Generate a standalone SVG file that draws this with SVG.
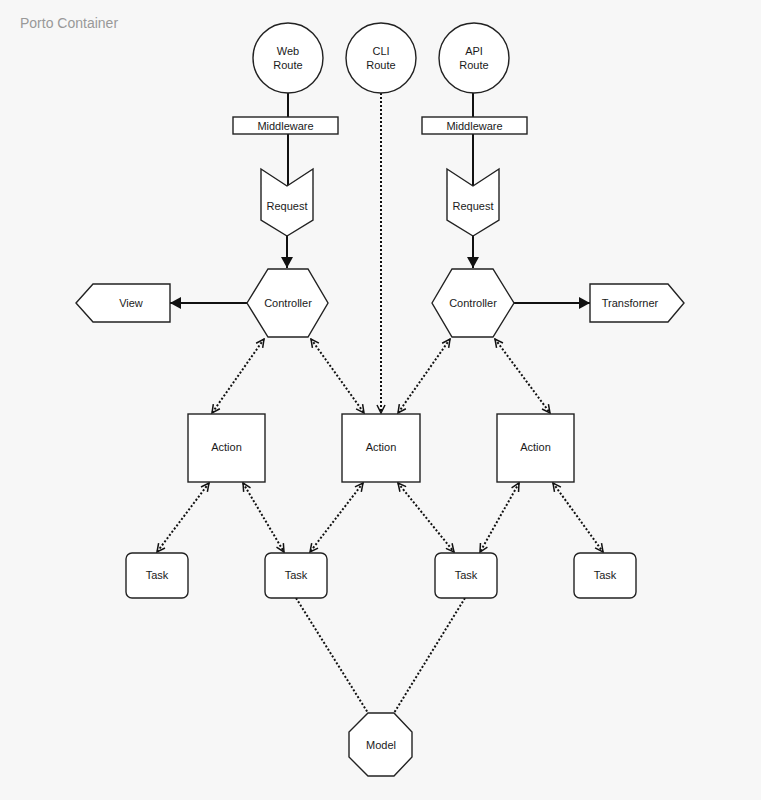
<svg xmlns="http://www.w3.org/2000/svg" width="761" height="800" viewBox="0 0 761 800">
<style>
.shape{fill:#fff;stroke:#222;stroke-width:1.4}
.lbl{font-family:"Liberation Sans",Arial,sans-serif;font-size:11px;fill:#1a1a1a;text-anchor:middle}
.solid{stroke:#111;stroke-width:2;fill:none}
.dot{stroke:#111;stroke-width:2;fill:none;stroke-dasharray:2 2}
</style>
<defs>
<marker id="fill" viewBox="0 0 11 12" refX="11" refY="6" markerWidth="11" markerHeight="12" markerUnits="userSpaceOnUse" orient="auto">
<path d="M0,0 L11,6 L0,12 z" fill="#111"/>
</marker>
<marker id="open" viewBox="-1 -1 10 10" refX="8" refY="4" markerWidth="10" markerHeight="10" markerUnits="userSpaceOnUse" orient="auto-start-reverse">
<path d="M0,0 L8,4 L0,8" fill="none" stroke="#111" stroke-width="1.5"/>
</marker>
</defs>
<rect x="0" y="0" width="761" height="800" fill="#f7f7f7"/>
<text x="20" y="28" font-family="'Liberation Sans',Arial,sans-serif" font-size="14" fill="#999">Porto Container</text>

<g id="connectors">
<line class="solid" x1="288" y1="93" x2="288" y2="117"/>
<line class="solid" x1="288" y1="134" x2="288" y2="186"/>
<line class="solid" x1="287" y1="236" x2="287" y2="268" marker-end="url(#fill)"/>
<line class="solid" x1="473" y1="93" x2="473" y2="117"/>
<line class="solid" x1="473" y1="134" x2="473" y2="186"/>
<line class="solid" x1="473" y1="236" x2="473" y2="268" marker-end="url(#fill)"/>
<line class="solid" x1="247" y1="303" x2="170" y2="303" marker-end="url(#fill)"/>
<line class="solid" x1="514" y1="303" x2="590" y2="303" marker-end="url(#fill)"/>
<line class="dot" x1="381" y1="93" x2="381" y2="413" marker-end="url(#open)"/>
<line class="dot" x1="264" y1="339" x2="212" y2="413" marker-start="url(#open)" marker-end="url(#open)"/>
<line class="dot" x1="311" y1="339" x2="364" y2="413" marker-start="url(#open)" marker-end="url(#open)"/>
<line class="dot" x1="450" y1="339" x2="398" y2="413" marker-start="url(#open)" marker-end="url(#open)"/>
<line class="dot" x1="495" y1="339" x2="550" y2="413" marker-start="url(#open)" marker-end="url(#open)"/>
<line class="dot" x1="209" y1="483" x2="157" y2="552" marker-start="url(#open)" marker-end="url(#open)"/>
<line class="dot" x1="243" y1="483" x2="284" y2="552" marker-start="url(#open)" marker-end="url(#open)"/>
<line class="dot" x1="363" y1="483" x2="310" y2="552" marker-start="url(#open)" marker-end="url(#open)"/>
<line class="dot" x1="398" y1="483" x2="454" y2="552" marker-start="url(#open)" marker-end="url(#open)"/>
<line class="dot" x1="519" y1="483" x2="480" y2="552" marker-start="url(#open)" marker-end="url(#open)"/>
<line class="dot" x1="553" y1="483" x2="603" y2="552" marker-start="url(#open)" marker-end="url(#open)"/>
<line class="dot" x1="296" y1="598" x2="368" y2="713"/>
<line class="dot" x1="465" y1="598" x2="394" y2="713"/>
</g>

<g id="web-route"><circle class="shape" cx="288" cy="58" r="35"/><text class="lbl" x="288" y="55">Web</text><text class="lbl" x="288" y="69">Route</text></g>
<g id="cli-route"><circle class="shape" cx="381" cy="58" r="35"/><text class="lbl" x="381" y="55">CLI</text><text class="lbl" x="381" y="69">Route</text></g>
<g id="api-route"><circle class="shape" cx="474" cy="58" r="35"/><text class="lbl" x="474" y="55">API</text><text class="lbl" x="474" y="69">Route</text></g>

<g id="middleware-web"><rect class="shape" x="233" y="117" width="105" height="17"/><text class="lbl" x="285.5" y="130">Middleware</text></g>
<g id="middleware-api"><rect class="shape" x="422" y="117" width="105" height="17"/><text class="lbl" x="474.5" y="130">Middleware</text></g>

<g id="request-web"><polygon class="shape" points="261,169 287,186 313,169 313,220 287,236 261,220"/><text class="lbl" x="287" y="210">Request</text></g>
<g id="request-api"><polygon class="shape" points="447,169 473,186 499,169 499,220 473,236 447,220"/><text class="lbl" x="473" y="210">Request</text></g>

<g id="controller-web"><polygon class="shape" points="247,303 268,269 308,269 328,303 308,337 268,337"/><text class="lbl" x="288" y="307">Controller</text></g>
<g id="controller-api"><polygon class="shape" points="432,303 452,269 493,269 514,303 493,337 452,337"/><text class="lbl" x="473" y="307">Controller</text></g>

<g id="view"><polygon class="shape" points="76,303 93,284 170,284 170,322 93,322"/><text class="lbl" x="131" y="307">View</text></g>
<g id="transformer"><polygon class="shape" points="590,284 668,284 684,303 668,322 590,322"/><text class="lbl" x="630" y="307">Transforner</text></g>

<g id="action-1"><rect class="shape" x="188" y="414" width="77" height="68"/><text class="lbl" x="226.5" y="451">Action</text></g>
<g id="action-2"><rect class="shape" x="342" y="414" width="78" height="68"/><text class="lbl" x="381" y="451">Action</text></g>
<g id="action-3"><rect class="shape" x="497" y="414" width="77" height="68"/><text class="lbl" x="535.5" y="451">Action</text></g>

<g id="task-1"><rect class="shape" x="126" y="553" width="62" height="45" rx="6"/><text class="lbl" x="157" y="579">Task</text></g>
<g id="task-2"><rect class="shape" x="265" y="553" width="62" height="45" rx="6"/><text class="lbl" x="296" y="579">Task</text></g>
<g id="task-3"><rect class="shape" x="435" y="553" width="62" height="45" rx="6"/><text class="lbl" x="466" y="579">Task</text></g>
<g id="task-4"><rect class="shape" x="574" y="553" width="62" height="45" rx="6"/><text class="lbl" x="605" y="579">Task</text></g>

<g id="model"><polygon class="shape" points="368,713 394,713 412,732 412,757 394,776 368,776 349,757 349,732"/><text class="lbl" x="381" y="749">Model</text></g>
</svg>
